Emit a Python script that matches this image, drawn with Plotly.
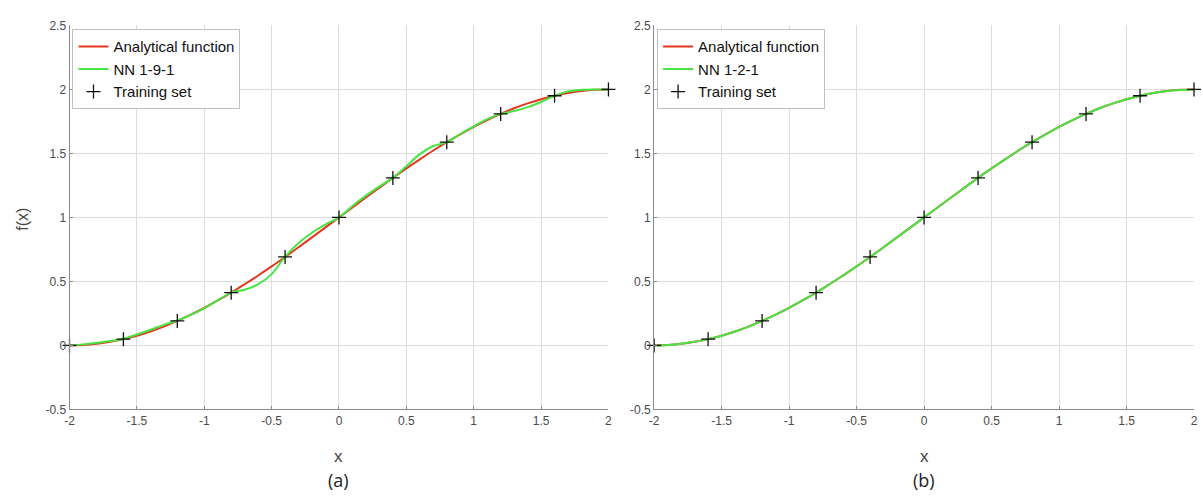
import plotly.graph_objects as go

# Sample grid (x) shared by all curves
x_grid = [-2.0, -1.9, -1.8, -1.7, -1.6, -1.5, -1.4, -1.3, -1.2, -1.1, -1.0,
          -0.9, -0.8, -0.7, -0.6, -0.5, -0.4, -0.3, -0.2, -0.1, 0.0,
          0.1, 0.2, 0.3, 0.4, 0.5, 0.6, 0.7, 0.8, 0.9, 1.0,
          1.1, 1.2, 1.3, 1.4, 1.5, 1.6, 1.7, 1.8, 1.9, 2.0]

# Analytical function values
f_analytical = [0.000, 0.003, 0.012, 0.028, 0.049, 0.076, 0.109, 0.147, 0.191, 0.240, 0.293,
                0.351, 0.412, 0.478, 0.546, 0.617, 0.691, 0.767, 0.844, 0.922, 1.000,
                1.078, 1.156, 1.233, 1.309, 1.383, 1.454, 1.523, 1.588, 1.649, 1.707,
                1.760, 1.809, 1.853, 1.891, 1.924, 1.951, 1.972, 1.988, 1.997, 2.000]

# Network output, 9 hidden neurons
f_nn_191 = [0.000, 0.008, 0.020, 0.034, 0.052, 0.085, 0.122, 0.160, 0.195, 0.238, 0.290,
            0.352, 0.412, 0.435, 0.478, 0.557, 0.692, 0.800, 0.880, 0.945, 1.000,
            1.090, 1.170, 1.243, 1.309, 1.400, 1.495, 1.558, 1.588, 1.652, 1.712,
            1.768, 1.809, 1.832, 1.862, 1.902, 1.951, 1.985, 1.997, 2.000, 2.000]

# Network output, 2 hidden neurons
f_nn_121 = [0.000, 0.004, 0.013, 0.028, 0.049, 0.076, 0.109, 0.147, 0.191, 0.240, 0.293,
            0.351, 0.412, 0.478, 0.546, 0.617, 0.691, 0.767, 0.844, 0.922, 1.000,
            1.078, 1.156, 1.233, 1.309, 1.383, 1.454, 1.523, 1.588, 1.649, 1.707,
            1.760, 1.809, 1.853, 1.891, 1.924, 1.951, 1.972, 1.988, 1.996, 2.000]

# Training samples
x_train = [-2.0, -1.6, -1.2, -0.8, -0.4, 0.0, 0.4, 0.8, 1.2, 1.6, 2.0]
f_train = [0.000, 0.049, 0.191, 0.412, 0.691, 1.000, 1.309, 1.588, 1.809, 1.951, 2.000]

x_ticks = [-2, -1.5, -1, -0.5, 0, 0.5, 1, 1.5, 2]
x_tick_text = ["-2", "-1.5", "-1", "-0.5", "0", "0.5", "1", "1.5", "2"]
y_ticks = [-0.5, 0, 0.5, 1, 1.5, 2, 2.5]
y_tick_text = ["-0.5", "0", "0.5", "1", "1.5", "2", "2.5"]

RED = "#e3381f"
GREEN = "#48e444"
FONT = "Liberation Sans, Arial, sans-serif"

W, H = 1203, 499
def px_x(p):
    return p / W
def px_y(p):
    return 1 - p / H

panels = [
    dict(nn=f_nn_191, name="NN 1-9-1", xa="x", ya="y", legend="legend", x0=65, x1=608, tag="(a)"),
    dict(nn=f_nn_121, name="NN 1-2-1", xa="x2", ya="y2", legend="legend2", x0=654, x1=1198, tag="(b)"),
]

fig = go.Figure()
for p in panels:
    fig.add_trace(go.Scatter(x=x_grid, y=f_analytical, mode="lines", name="Analytical function",
                             line=dict(color=RED, width=2, shape="spline", smoothing=1.0),
                             xaxis=p["xa"], yaxis=p["ya"], legend=p["legend"]))
    fig.add_trace(go.Scatter(x=x_grid, y=p["nn"], mode="lines", name=p["name"],
                             line=dict(color=GREEN, width=2, shape="spline", smoothing=1.0),
                             xaxis=p["xa"], yaxis=p["ya"], legend=p["legend"]))
    fig.add_trace(go.Scatter(x=x_train, y=f_train, mode="markers", name="Training set",
                             marker=dict(symbol="cross-thin", size=10, color="#111111",
                                         line=dict(color="#111111", width=1.3)),
                             xaxis=p["xa"], yaxis=p["ya"], legend=p["legend"], cliponaxis=False))

TOP, BOTTOM = 19, 414
axis_common = dict(showgrid=True, gridcolor="#dcdcdc", gridwidth=1, zeroline=False,
                   showline=True, linecolor="#8a8a8a", linewidth=1, mirror=False,
                   ticks="inside", ticklen=3, tickcolor="#8a8a8a",
                   tickfont=dict(family=FONT, size=12, color="#4a4a4a"))

layout = dict(width=W, height=H, margin=dict(l=0, r=0, t=0, b=0),
              plot_bgcolor="white", paper_bgcolor="white", showlegend=True)

for i, p in enumerate(panels):
    sx = "" if i == 0 else "2"
    layout["xaxis" + sx] = dict(axis_common, domain=[px_x(p["x0"]), px_x(p["x1"])],
                                range=[-2, 2], tickvals=x_ticks, ticktext=x_tick_text,
                                anchor="y" + sx)
    layout["yaxis" + sx] = dict(axis_common, domain=[px_y(BOTTOM), px_y(TOP)],
                                range=[-0.5, 2.5], tickvals=y_ticks, ticktext=y_tick_text,
                                anchor="x" + sx)
    layout[p["legend"]] = dict(x=px_x(p["x0"] + 3), y=px_y(TOP + 4), xanchor="left", yanchor="top",
                               bgcolor="white", bordercolor="#c0c0c0", borderwidth=1,
                               font=dict(family=FONT, size=15, color="#111111"),
                               itemwidth=30, tracegroupgap=0)

fig.update_layout(**layout)

annotations = []
for p in panels:
    cx = px_x((p["x0"] + p["x1"]) / 2)
    annotations.append(dict(text="x", x=cx, y=px_y(462), xref="paper", yref="paper",
                            xanchor="center", yanchor="middle",
                            showarrow=False, font=dict(family=FONT, size=17, color="#444444")))
    annotations.append(dict(text=p["tag"], x=cx, y=px_y(487), xref="paper", yref="paper",
                            xanchor="center", yanchor="middle",
                            showarrow=False, font=dict(family="Open Sans, sans-serif", size=18, color="#222222")))
annotations.append(dict(text="f(x)", x=px_x(18), y=px_y(218), xref="paper", yref="paper",
                        xanchor="center", yanchor="middle",
                        textangle=-90, showarrow=False, font=dict(family=FONT, size=16, color="#444444")))
fig.update_layout(annotations=annotations)

fig.write_html("out.html")
